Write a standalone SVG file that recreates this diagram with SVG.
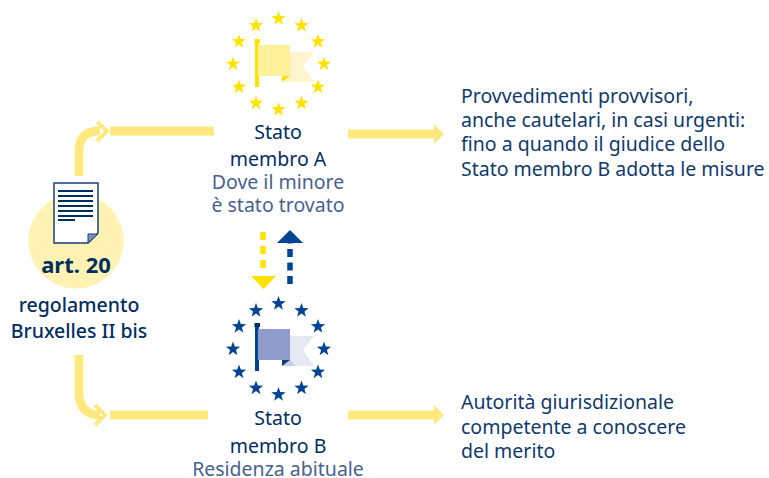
<svg xmlns="http://www.w3.org/2000/svg" xmlns:xlink="http://www.w3.org/1999/xlink" width="769" height="478" viewBox="0 0 769 478">
<style>
text{font-family:"Noto Sans","Open Sans",sans-serif;font-size:19.5px;fill:#0f3a6b}
.c{text-anchor:middle}
.b{fill:#002e5f;font-weight:600}
.s{fill:#47628f}
.line{fill:none;stroke:#ffe97f;stroke-width:9}
.head{fill:none;stroke:#ffe97f;stroke-width:4}
.y{fill:#ffe300}.n{fill:#004494}
</style>
<defs>
<polygon id="star" points="0,-7.5 1.8,-2.4 7.2,-2.3 2.9,1 4.4,6.2 0,3.1 -4.4,6.2 -2.9,1 -7.2,-2.3 -1.8,-2.4"/>
<g id="ring">
<use xlink:href="#star" x="0" y="-45"/><use xlink:href="#star" x="23" y="-38"/><use xlink:href="#star" x="39.500" y="-22"/><use xlink:href="#star" x="45.500" y="0.500"/><use xlink:href="#star" x="39.500" y="23.500"/><use xlink:href="#star" x="23" y="39.500"/><use xlink:href="#star" x="0" y="46"/><use xlink:href="#star" x="-22.500" y="39.500"/><use xlink:href="#star" x="-39.500" y="23.500"/><use xlink:href="#star" x="-45.500" y="0.500"/><use xlink:href="#star" x="-39.500" y="-22"/><use xlink:href="#star" x="-22.500" y="-38"/>
</g>
</defs>
<g id="connectors">
<path class="line" d="M79 176V150Q79 131 100 131"/>
<path class="head" d="M97 122L107 131L97 141"/>
<path class="line" d="M110 131H214"/>
<path class="line" d="M79 355V392Q79 415 100 415"/>
<path class="head" d="M95 405L105 415L95 425"/>
<path class="line" d="M110 415H208"/>
<path class="line" d="M348 134H434"/>
<polygon points="434,124 444,134 434,144" fill="#ffe97f"/>
<path class="line" d="M348 415H434"/>
<polygon points="434,405 444,415 434,425" fill="#ffe97f"/>
<path d="M263 232V274" fill="none" stroke="#ffe300" stroke-width="5.500" stroke-dasharray="8 6"/>
<polygon points="251,276 276,276 263.500,289" fill="#ffe300"/>
<path d="M290 284V243" fill="none" stroke="#004494" stroke-width="5.500" stroke-dasharray="8 5.500"/>
<polygon points="277,243 303,243 290,230" fill="#004494"/>
</g>
<g id="article">
<circle cx="76" cy="241" r="47.500" fill="#fff2b3"/>
<path d="M54 183H98V233L88 243H54Z" fill="#fff" stroke="#15427a" stroke-width="1.500"/>
<path d="M88 243V234H98Z" fill="#7f8fb8" stroke="#15427a" stroke-width="1"/>
<path d="M58 191H93M58 196H93M58 201H93M58 206H93M58 211H93M58 216H93M58 220H75" stroke="#002e5f" stroke-width="2" fill="none"/>
<text class="c b" x="76" y="273" style="font-size:22px;font-weight:700">art. 20</text>
<text class="c b" x="79" y="312" style="font-weight:500">regolamento</text>
<text class="c b" x="79" y="338" style="font-weight:500">Bruxelles II bis</text>
</g>
<g id="stato-a">
<use xlink:href="#ring" x="278.500" y="63.500" class="y"/>
<path d="M283 82L290 52H314L303 66L314 82Z" fill="#fff5cc"/>
<path d="M282 82L290 76H282Z" fill="#ffe300"/>
<rect x="255" y="41" width="4" height="46" fill="#ffe300"/>
<rect x="254.500" y="39" width="5.500" height="4" fill="#ffe300"/>
<rect x="258" y="45" width="32" height="31" fill="#fff09a"/>
<text class="c" x="278" y="139" style="fill:#002e5f">Stato</text>
<text class="c" x="278" y="166" style="fill:#002e5f">membro A</text>
<text class="c s" x="278" y="189">Dove il minore</text>
<text class="c s" x="278" y="212">è stato trovato</text>
</g>
<g id="stato-b">
<use xlink:href="#ring" x="278.500" y="348.500" class="n"/>
<path d="M283 366L290 336H314L303 350L314 366Z" fill="#e6e9f4"/>
<path d="M282 366L290 360L296 366Z" fill="#c5cce3"/>
<path d="M282 366L290 360H282Z" fill="#0f3a6b"/>
<rect x="255" y="326" width="4" height="45" fill="#004494"/>
<rect x="254.500" y="323" width="5.500" height="4" fill="#002e5f"/>
<rect x="258" y="329" width="32" height="31" fill="#8f9ccb"/>
<text class="c" x="278" y="425" style="fill:#002e5f">Stato</text>
<text class="c" x="278" y="453" style="fill:#002e5f">membro B</text>
<text class="c s" x="278" y="476">Residenza abituale</text>
</g>
<g id="note-a">
<text x="461" y="103">Provvedimenti provvisori,</text>
<text x="461" y="127">anche cautelari, in casi urgenti:</text>
<text x="461" y="151">fino a quando il giudice dello</text>
<text x="461" y="176">Stato membro B adotta le misure</text>
</g>
<g id="note-b">
<text x="461" y="409">Autorità giurisdizionale</text>
<text x="461" y="434">competente a conoscere</text>
<text x="461" y="458">del merito</text>
</g>
</svg>
